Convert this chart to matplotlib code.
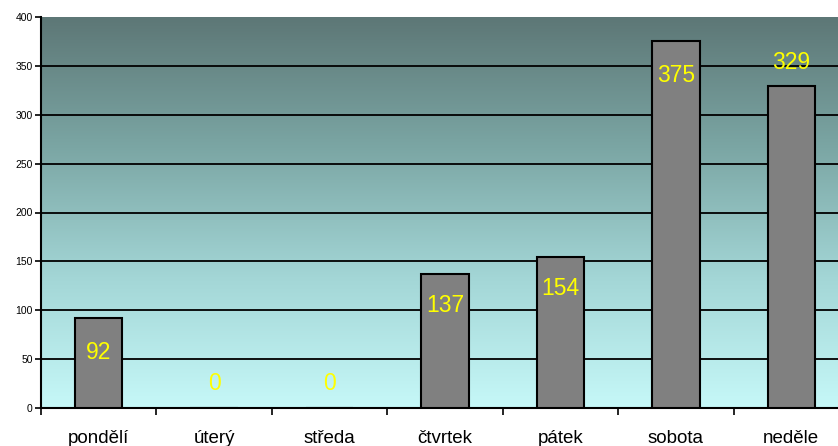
import matplotlib.pyplot as plt
import numpy as np
from matplotlib.colors import LinearSegmentedColormap

# data
dny = ['pondělí', 'úterý', 'středa', 'čtvrtek', 'pátek', 'sobota', 'neděle']
hodnoty = [92, 0, 0, 137, 154, 375, 329]
# posun popisku (px): zaporny = do sloupce, kladny = nad sloupec
posun = [-34, 25, 25, -31, -31, -34, 24]

plt.rcParams['font.family'] = ['Liberation Sans', 'DejaVu Sans']

fig = plt.figure(figsize=(8.38, 4.46), dpi=100)
ax = fig.add_axes([41/838, 38/446, 808/838, 391/446])

# gradient pozadi
cmap = LinearSegmentedColormap.from_list('bg', ['#c6f8f8', '#a3d6d6', '#7ba6a4', '#5d7776'])
grad = np.linspace(0, 1, 256).reshape(-1, 1)
ax.imshow(grad, cmap=cmap, aspect='auto', origin='lower',
          extent=[-0.5, len(dny) - 0.5, 0, 400], zorder=0)

x = np.arange(len(dny))
ax.bar(x, hodnoty, width=0.41, color='#808080', edgecolor='black', linewidth=1.5, zorder=3)

for i, v in enumerate(hodnoty):
    ax.annotate(str(v), (x[i], v), xytext=(0, posun[i] * 0.72), textcoords='offset points',
                ha='center', va='center', color='#ffff00', fontsize=16.5, zorder=4)

for g in range(50, 400, 50):
    ax.axhline(g, color='black', linewidth=1.3, zorder=2)

ax.set_xlim(-0.5, len(dny) - 0.5)
ax.set_ylim(0, 400)
ax.set_yticks(range(0, 401, 50))
ax.tick_params(axis='y', labelsize=7.5, length=4, width=1.2, pad=2)

ax.set_xticks(np.arange(-0.5, len(dny), 1))
ax.set_xticklabels([])
ax.set_xticks(x, minor=True)
ax.set_xticklabels(dny, minor=True, fontsize=13.5)
ax.tick_params(axis='x', which='major', length=5, width=1.2)
ax.tick_params(axis='x', which='minor', length=0, pad=16)

for s in ['top', 'right']:
    ax.spines[s].set_visible(False)
ax.spines['left'].set_linewidth(1.5)
ax.spines['bottom'].set_linewidth(1.5)

fig.savefig('out.png', dpi=100)
